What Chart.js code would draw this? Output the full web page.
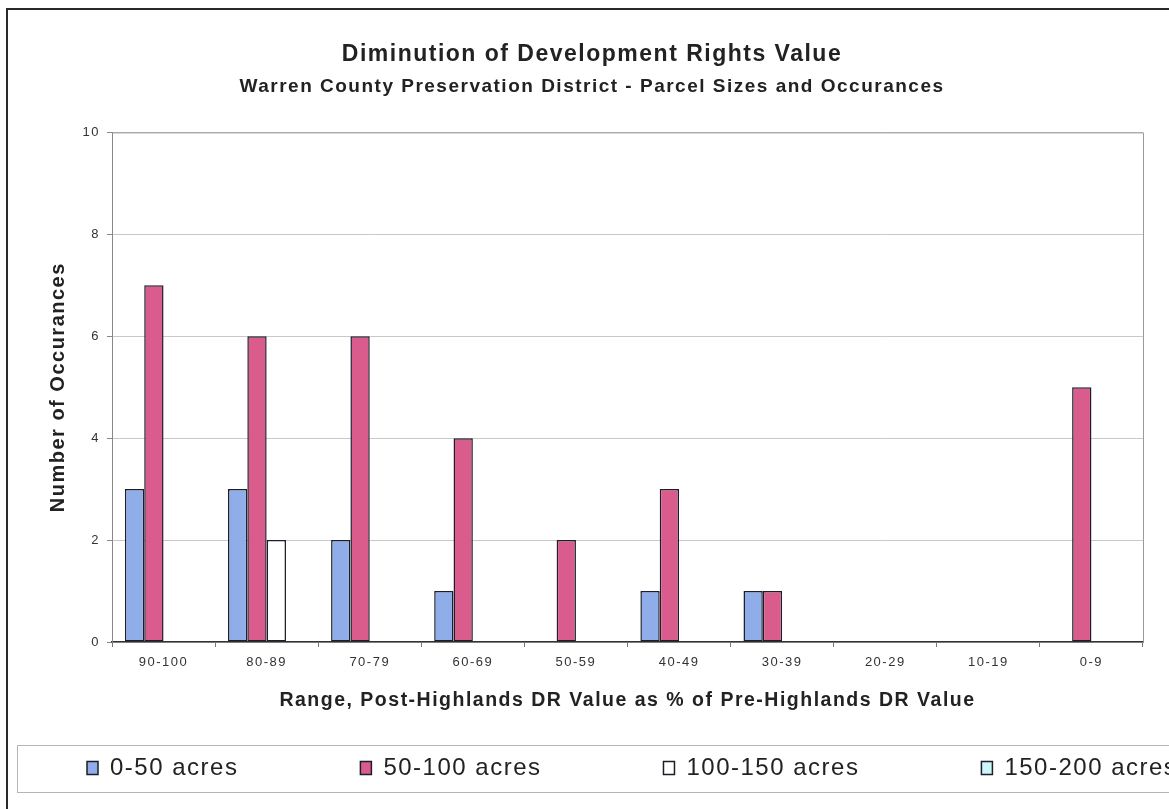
<!DOCTYPE html>
<html>
<head>
<meta charset="utf-8">
<title>Diminution of Development Rights Value</title>
<script src="https://cdn.jsdelivr.net/npm/chart.js@4.4.0/dist/chart.umd.min.js"></script>
<style>
  html, body { margin: 0; padding: 0; background: #fff; overflow: hidden; }
  #wrap { width: 1169px; height: 809px; overflow: hidden; }
</style>
</head>
<body>
<div id="wrap"><canvas id="myChart" width="1184" height="809"></canvas></div>
<script>
// categories along the x axis
const ranges = ['90-100', '80-89', '70-79', '60-69', '50-59', '40-49', '30-39', '20-29', '10-19', '0-9'];

// number of occurances per parcel size
const acres0to50 = [3, 3, 2, 1, 0, 1, 1, 0, 0, 0];
const acres50to100 = [7, 6, 6, 4, 2, 3, 1, 0, 0, 5];
const acres100to150 = [0, 2, 0, 0, 0, 0, 0, 0, 0, 0];
const acres150to200 = [0, 0, 0, 0, 0, 0, 0, 0, 0, 0];

const seriesNames = ['0-50 acres', '50-100 acres', '100-150 acres', '150-200 acres'];
const yTicks = [0, 2, 4, 6, 8, 10];

const legendPad = 122;

Chart.defaults.font.family = 'Arial, "Liberation Sans", sans-serif';
Chart.defaults.color = '#333';

// the scanned original has loose letter spacing
function spaceLetters(chart) {
    if ('letterSpacing' in chart.ctx) chart.ctx.letterSpacing = '1.5px';
}

// frame, legend box and plot border, plus moving the legend row into place
const framePlugin = {
    id: 'frames',
    beforeLayout(chart) { spaceLetters(chart); },
    afterLayout(chart) {
        const lg = chart.legend;
        lg.left = 87 - legendPad;
        lg.right = 3000;
        lg.top = 756 - legendPad;
        lg.bottom = 809;
    },
    beforeDraw(chart) {
        spaceLetters(chart);
        const c = chart.ctx;
        c.save();
        c.fillStyle = '#fff';
        c.fillRect(0, 0, chart.width, chart.height);
        // legend box
        c.strokeStyle = '#b5b5b5';
        c.lineWidth = 1;
        c.strokeRect(17.5, 745.5, 1400, 47);
        // outer frame
        c.strokeStyle = '#2a2a2a';
        c.lineWidth = 2;
        c.strokeRect(7, 9, 1170, 900);
        c.restore();
    },
    afterDraw(chart) {
        const a = chart.chartArea;
        const c = chart.ctx;
        c.save();
        c.strokeStyle = '#9a9a9a';
        c.lineWidth = 1;
        c.beginPath();
        c.moveTo(a.left, a.top + 0.5);
        c.lineTo(a.right + 0.5, a.top + 0.5);
        c.lineTo(a.right + 0.5, a.bottom);
        c.stroke();
        c.restore();
    }
};

const ctx = document.getElementById('myChart').getContext('2d');
const myChart = new Chart(ctx, {
    type: 'bar',
    data: {
        labels: ranges,
        datasets: [{
            label: seriesNames[0],
            data: acres0to50,
            backgroundColor: '#8fade8',
            borderColor: '#1e1e2a',
            borderWidth: 1.5
        }, {
            label: seriesNames[1],
            data: acres50to100,
            backgroundColor: '#d95c8d',
            borderColor: '#1e1e2a',
            borderWidth: 1.5
        }, {
            label: seriesNames[2],
            data: acres100to150,
            backgroundColor: '#ffffff',
            borderColor: '#1e1e2a',
            borderWidth: 1.5
        }, {
            label: seriesNames[3],
            data: acres150to200,
            backgroundColor: '#cdf6fb',
            borderColor: '#1e1e2a',
            borderWidth: 1.5
        }]
    },
    options: {
        responsive: false,
        animation: false,
        layout: {
            padding: { left: 41, right: 41, top: 20, bottom: 17 }
        },
        datasets: {
            bar: {
                categoryPercentage: 0.75,
                barPercentage: 1.0,
                borderSkipped: false
            }
        },
        plugins: {
            title: {
                display: true,
                text: 'Diminution of Development Rights Value',
                color: '#222',
                font: { size: 23, weight: 'bold' },
                padding: { top: 21, bottom: 0 }
            },
            subtitle: {
                display: true,
                text: 'Warren County Preservation District - Parcel Sizes and Occurances',
                color: '#222',
                font: { size: 19, weight: 'bold' },
                padding: { top: 7, bottom: 34 }
            },
            legend: {
                position: 'bottom',
                align: 'start',
                maxHeight: 50,
                labels: {
                    color: '#222',
                    font: { size: 24 },
                    boxWidth: 11,
                    boxHeight: 13,
                    padding: legendPad
                }
            },
            tooltip: { enabled: false }
        },
        scales: {
            x: {
                afterFit(scale) { scale.height = 100; },
                grid: {
                    display: true,
                    drawOnChartArea: false,
                    drawTicks: true,
                    tickLength: 5,
                    color: '#777'
                },
                border: { display: true, color: '#333', width: 1.5 },
                ticks: {
                    color: '#333',
                    font: { size: 13 },
                    padding: 8,
                    maxRotation: 0
                },
                title: {
                    display: true,
                    text: 'Range, Post-Highlands DR Value as % of Pre-Highlands DR Value',
                    color: '#222',
                    font: { size: 19.5, weight: 'bold' },
                    padding: { top: 0, bottom: 30 }
                }
            },
            y: {
                min: 0,
                max: 10,
                afterFit(scale) { scale.width = 71; },
                afterBuildTicks(scale) { scale.ticks = yTicks.map(v => ({ value: v })); },
                grid: {
                    color: '#c8c8c8',
                    tickLength: 5,
                    tickColor: '#888'
                },
                border: { display: true, color: '#888' },
                ticks: {
                    color: '#333',
                    font: { size: 13 },
                    padding: 7
                },
                title: {
                    display: true,
                    text: 'Number of Occurances',
                    color: '#222',
                    font: { size: 20, weight: 'bold' },
                    padding: { top: 5, bottom: 0 }
                }
            }
        }
    },
    plugins: [framePlugin]
});
</script>
</body>
</html>
